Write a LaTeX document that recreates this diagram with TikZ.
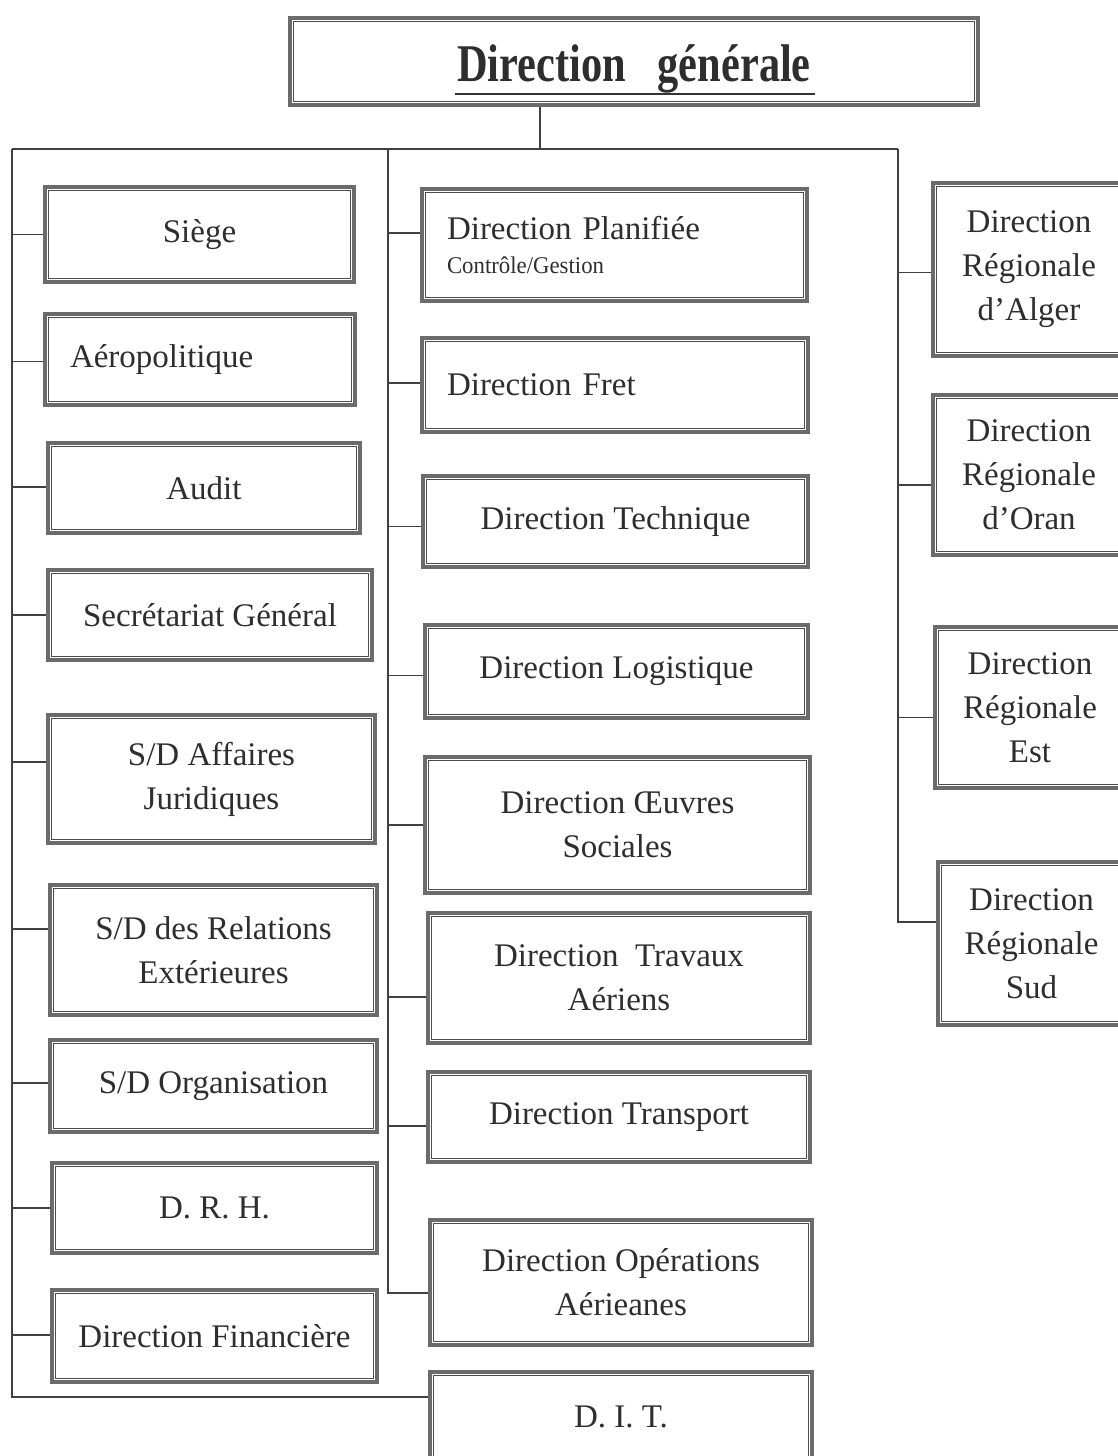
\documentclass[tikz,border=0pt]{standalone}
\usepackage{fontspec}
\setmainfont{Liberation Serif}
\newcommand\mystub[3]{\draw[conn] ([yshift=#3]#1.west) -- ([yshift=#3]#1.west -| #2);}
\begin{document}
\begin{tikzpicture}[x=1pt,y=-1pt,
  box/.style={draw=black!58, line width=3.6pt, fill=white, inner sep=0pt,
    text=black!82, font=\fontsize{33}{44}\selectfont, align=center},
  inbox/.style={draw=black!70, line width=0.9pt},
  conn/.style={draw=black!75, line width=1.1pt}]
\useasboundingbox (0,0) rectangle (1118,1456);
\fill[white] (0,0) rectangle (1118,1456);
\clip (0,0) rectangle (1118,1456);
% top
\node[box, minimum width=688pt, minimum height=87pt,
  font=\fontsize{53}{56}\selectfont\bfseries] (dg) at (634,61.5) {\raisebox{-7pt}[\height][\depth]{\scalebox{0.8}[1]{Direction\ \ \ générale}}};
% left column
\node[box, minimum width=309pt, minimum height=95pt] (siege) at (199.5,234.5) {Siège};
\node[box, minimum width=310pt, minimum height=91pt, text width=260pt, align=left] (aero) at (200,359.5) {Aéropolitique};
\node[box, minimum width=312pt, minimum height=90pt] (audit) at (204,488) {Audit};
\node[box, minimum width=324pt, minimum height=90pt] (secr) at (210,615) {Secrétariat Général};
\node[box, minimum width=327pt, minimum height=128pt] (jur) at (211.5,779) {S/D Affaires\\Juridiques};
\node[box, minimum width=327pt, minimum height=130pt] (rel) at (213.5,950) {S/D des Relations\\Extérieures};
\node[box, minimum width=327pt, minimum height=92pt] (org) at (213.5,1086) {S/D Organisation};
\node[box, minimum width=325pt, minimum height=90pt] (drh) at (214.5,1208) {D. R. H.};
\node[box, minimum width=325pt, minimum height=92pt] (fin) at (214.5,1336) {Direction Financière};
% middle column
\node[box, minimum width=385pt, minimum height=112pt, text width=335pt, align=left] (plan) at (614.5,245)
  {Direction Planifiée\\[-10pt]{\fontsize{24}{28}\selectfont\scalebox{0.95}[1]{Contrôle/Gestion}}};
\node[box, minimum width=386pt, minimum height=94pt, text width=336pt, align=left] (fret) at (615,385) {Direction Fret};
\node[box, minimum width=385pt, minimum height=91pt] (tech) at (615.5,521.5) {Direction Technique};
\node[box, minimum width=383pt, minimum height=93pt] (logi) at (616.5,671.5) {Direction Logistique};
\node[box, minimum width=385pt, minimum height=136pt] (oeuv) at (617.5,825) {Direction Œuvres\\Sociales};
\node[box, minimum width=382pt, minimum height=130pt] (trav) at (619,978) {Direction\ \ Travaux\\Aériens};
\node[box, minimum width=382pt, minimum height=90pt] (trans) at (619,1117) {Direction Transport};
\node[box, minimum width=382pt, minimum height=125pt] (ops) at (621,1282.5) {Direction Opérations\\Aérieanes};
\node[box, minimum width=382pt, minimum height=90pt] (dit) at (621,1417) {D. I. T.};
% right column
\node[box, minimum width=192pt, minimum height=173pt] (alger) at (1029,269.5) {Direction\\Régionale\\d'Alger};
\node[box, minimum width=192pt, minimum height=160pt] (oran) at (1029,475) {Direction\\Régionale\\d'Oran};
\node[box, minimum width=190pt, minimum height=161pt] (est) at (1030,707.5) {Direction\\Régionale\\Est};
\node[box, minimum width=187pt, minimum height=163pt] (sud) at (1031.5,943.5) {Direction\\Régionale\\Sud};
% inner lines of the boxes
\foreach \n in {dg,siege,aero,audit,secr,jur,rel,org,drh,fin,plan,fret,tech,logi,oeuv,trav,trans,ops,dit,alger,oran,est,sud}
  \draw[inbox] ([shift={(5pt,-5pt)}]\n.north west) rectangle ([shift={(-5pt,5pt)}]\n.south east);
% underline of title
\draw[line width=1.8pt, black!80] ([xshift=-179pt,yshift=-20pt]dg.base) -- ([xshift=181pt,yshift=-20pt]dg.base);
% trunks
\coordinate (top) at (540,149);
\coordinate (L0) at (12,149);
\coordinate (Lb) at (12,1397);
\coordinate (M0) at (388,149);
\coordinate (Mb) at (388,1293);
\coordinate (R0) at (898,149);
\coordinate (Rb) at (898,922);
\draw[conn] (dg.south -| top) -- (top);
\draw[conn] (L0) -- (R0);
\draw[conn] (L0) -- (Lb) -- (Lb -| dit.west);
\draw[conn] (M0) -- (Mb) -- (Mb -| ops.west);
\draw[conn] (R0) -- (Rb) -- (Rb -| sud.west);
% stubs
\mystub{siege}{L0}{0pt}
\mystub{aero}{L0}{-2pt}
\mystub{audit}{L0}{1pt}
\mystub{secr}{L0}{0pt}
\mystub{jur}{L0}{17pt}
\mystub{rel}{L0}{21pt}
\mystub{org}{L0}{3pt}
\mystub{drh}{L0}{0pt}
\mystub{fin}{L0}{1pt}
\mystub{plan}{M0}{12pt}
\mystub{fret}{M0}{2pt}
\mystub{tech}{M0}{-5pt}
\mystub{logi}{M0}{-4pt}
\mystub{oeuv}{M0}{0pt}
\mystub{trav}{M0}{-19pt}
\mystub{trans}{M0}{-9pt}
\mystub{alger}{R0}{-3pt}
\mystub{oran}{R0}{-10pt}
\mystub{est}{R0}{-10pt}
\end{tikzpicture}
\end{document}
